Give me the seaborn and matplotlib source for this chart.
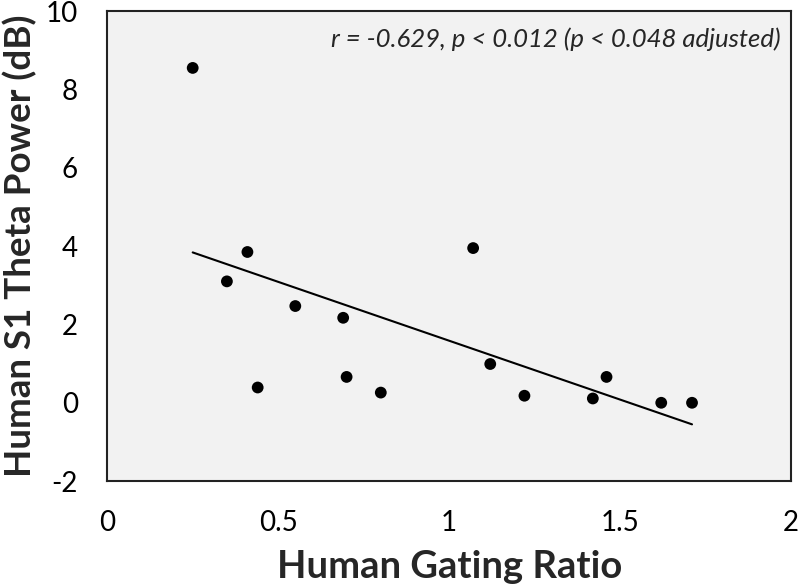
import numpy as np
import pandas as pd
import matplotlib
matplotlib.use("Agg")
import matplotlib.pyplot as plt
import seaborn as sns

gating_ratio = [0.25, 0.35, 0.41, 0.44, 0.55, 0.69, 0.70, 0.80, 1.07, 1.12, 1.22, 1.42, 1.46, 1.62, 1.71]
theta_power = [8.55, 3.10, 3.85, 0.39, 2.47, 2.17, 0.66, 0.26, 3.95, 0.99, 0.18, 0.11, 0.66, 0.00, 0.00]
x_ticks = [0, 0.5, 1, 1.5, 2]
x_tick_labels = ["0", "0.5", "1", "1.5", "2"]
y_ticks = [-2, 0, 2, 4, 6, 8, 10]
annotation = "r = -0.629, p < 0.012 (p < 0.048 adjusted)"

df = pd.DataFrame({"gating": gating_ratio, "theta": theta_power})

sns.set_theme(style="white")
plt.rcParams['font.family'] = ['Lato', 'DejaVu Sans']
plt.rcParams['axes.unicode_minus'] = False

fig = plt.figure(figsize=(8, 5.86), dpi=100)
ax = fig.add_axes([0.134, 0.179, 0.855, 0.802])
ax.set_facecolor("#f2f2f2")

sns.regplot(data=df, x="gating", y="theta", ax=ax, ci=None, truncate=True,
            scatter_kws=dict(s=72, color="black", alpha=1, edgecolor="none", zorder=3),
            line_kws=dict(color="black", lw=1.5))

ax.set_xlim(0, 2)
ax.set_ylim(-2, 10)
ax.set_xticks(x_ticks)
ax.set_xticklabels(x_tick_labels)
ax.set_yticks(y_ticks)
ax.set_yticklabels([str(v) for v in y_ticks])
ax.tick_params(axis="both", direction="out", length=7, width=1, color="#999999",
               labelsize=20, labelcolor="black", pad=14)
for sp in ax.spines.values():
    sp.set_color("#222222")
    sp.set_linewidth(1.5)
    sp.set_visible(True)

ax.set_xlabel("Human Gating Ratio", fontsize=27.5, fontweight="bold", labelpad=10)
ax.set_ylabel("Human S1 Theta Power (dB)", fontsize=26.5, fontweight="bold")
ax.yaxis.set_label_coords(-0.102, 0.5)
ax.yaxis.label.set_verticalalignment("bottom")

ax.text(0.985, 0.965, annotation, transform=ax.transAxes, ha="right", va="top",
        fontsize=18.5, style="italic")

fig.savefig("out.png", dpi=100)
